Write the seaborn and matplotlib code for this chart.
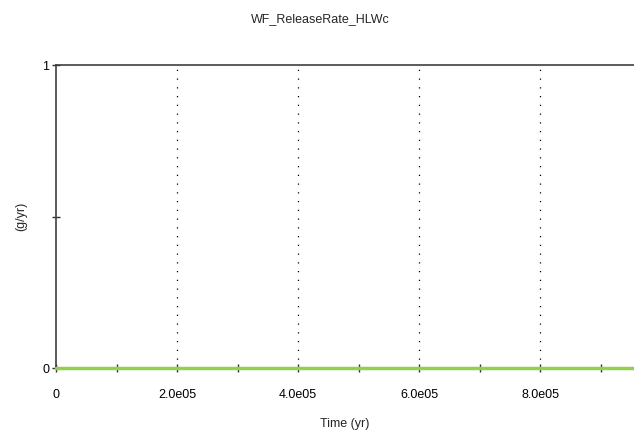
import numpy as np
import pandas as pd
import seaborn as sns
import matplotlib.pyplot as plt
from matplotlib.ticker import FixedLocator

time_yr = [0.0, 1.0e5, 2.0e5, 3.0e5, 4.0e5, 5.0e5, 6.0e5, 7.0e5, 8.0e5, 9.0e5, 9.55e5]
release = [0, 0, 0, 0, 0, 0, 0, 0, 0, 0, 0]
xmajor = [0, 2.0e5, 4.0e5, 6.0e5, 8.0e5]
xlabels = ["0", "2.0e05", "4.0e05", "6.0e05", "8.0e05"]
xminor = [1.0e5, 3.0e5, 5.0e5, 7.0e5, 9.0e5]
grid_x = [2.0e5, 4.0e5, 6.0e5, 8.0e5]

sns.set_style("white")
plt.rcParams["font.family"] = ["Liberation Sans", "DejaVu Sans"]

df = pd.DataFrame({"time": time_yr, "rate": release})

fig = plt.figure(figsize=(6.34, 4.34), dpi=100)
ax = fig.add_axes([0.0883, 0.152, 0.9117, 0.698])
sns.lineplot(data=df, x="time", y="rate", ax=ax, color="#92d050", linewidth=2.5, zorder=5, clip_on=False)

# dotted verticals at the labelled x ticks
for gx in grid_x:
    ax.plot([gx, gx], [0, 0.99], color="black", linestyle=(0, (1, 6)), linewidth=0.9, zorder=1)

ax.set_xlim(0, 9.55e5)
ax.set_ylim(0, 1)
ax.set_xticks(xmajor)
ax.set_xticklabels(xlabels)
ax.xaxis.set_minor_locator(FixedLocator(xminor))
ax.set_yticks([0, 1])
ax.set_yticklabels(["0", "1"])
ax.yaxis.set_minor_locator(FixedLocator([0.5]))

for s in ["left", "top", "bottom"]:
    ax.spines[s].set_color("#404040")
    ax.spines[s].set_linewidth(1.2)
ax.spines["right"].set_visible(False)

ax.tick_params(axis="both", which="both", direction="inout", length=6, width=1,
               color="#303030", labelsize=9, labelcolor="black")
ax.tick_params(axis="x", which="both", bottom=True, pad=12)
ax.tick_params(axis="y", which="both", left=True, pad=2)

ax.set_xlabel("Time (yr)", fontsize=9, labelpad=12)
ax.set_ylabel("(g/yr)", fontsize=9, labelpad=11)
fig.suptitle("WF_ReleaseRate_HLWc", fontsize=9, x=0.505, y=0.97)

fig.savefig("out.png", dpi=100)
